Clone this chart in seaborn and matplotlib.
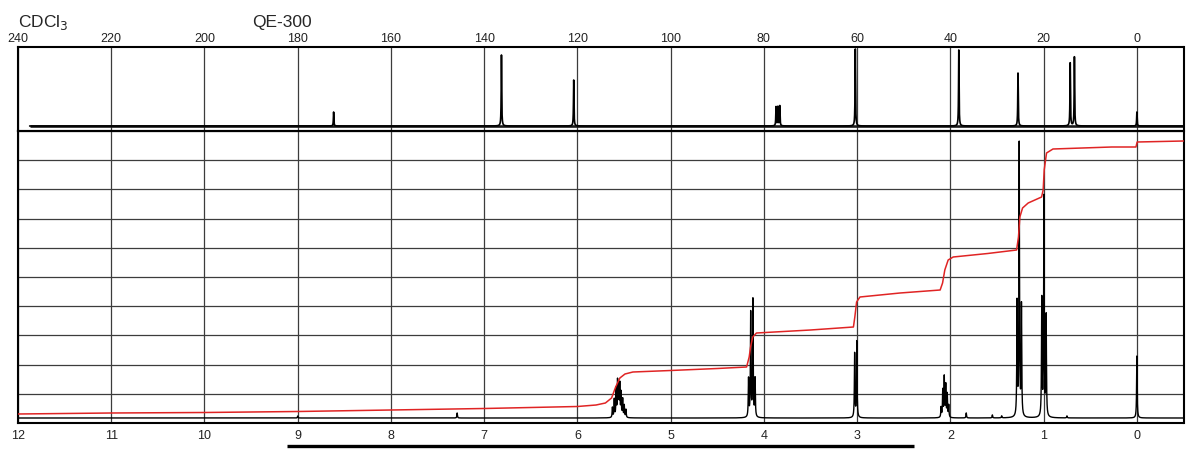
import numpy as np
import pandas as pd
import matplotlib
matplotlib.use("Agg")
import matplotlib.pyplot as plt
import seaborn as sns

# ---------------- data ----------------
# 13C peak list: position (ppm) and height (arbitrary units)
c13_ppm = [172.3, 136.3, 120.8, 77.4, 77.0, 76.6, 60.4, 38.2, 25.5, 14.3, 13.4, 0.0]
c13_height = [14, 71, 46, 19, 19, 20, 77, 76, 53, 63, 69, 14]
c13_hwhm = 0.06

# 1H line list: position (ppm) and height (arbitrary units)
h1_ppm = [9.00, 7.29,
          5.625, 5.605, 5.585, 5.570, 5.558, 5.546, 5.532, 5.515, 5.498, 5.480,
          4.165, 4.142, 4.118, 4.095,
          3.027, 3.004,
          2.100, 2.082, 2.066, 2.050, 2.034, 2.018,
          1.830, 1.550, 1.450,
          1.285, 1.262, 1.238,
          1.020, 0.997, 0.973,
          0.750, 0.000]
h1_height = [2, 5,
             10, 18, 28, 35, 29, 32, 24, 18, 12, 8,
             38, 104, 117, 38,
             64, 76,
             10, 27, 40, 32, 23, 12,
             5, 3, 2,
             113, 272, 110,
             117, 219, 100,
             2, 62]
h1_hwhm = 0.0035

# integral trace (ppm, value)
int_ppm = [12.0, 11.0, 10.0, 9.0, 8.0, 7.0, 6.0, 5.80, 5.70, 5.634, 5.59, 5.545, 5.49, 5.405,
           5.0, 4.5, 4.186, 4.158, 4.143, 4.12, 4.08, 3.5, 3.04, 3.025, 3.006, 2.97, 2.54,
           2.11, 2.084, 2.06, 2.024, 1.97, 1.6, 1.29, 1.27, 1.255, 1.226, 1.166, 1.022,
           1.005, 0.994, 0.969, 0.9, 0.27, 0.01, -0.003, -0.5]
int_val = [4, 5, 5.5, 6.5, 8, 9.5, 11.5, 13, 15, 20, 31, 40, 44, 46,
           47.5, 49.5, 51, 61, 71, 81, 85, 88, 91, 101, 116, 121, 125,
           128, 135, 148, 158, 161, 164.5, 168, 181, 201, 210, 215, 221,
           228, 248, 265, 269, 271, 271, 276, 277]

c13_ticks = [240, 220, 200, 180, 160, 140, 120, 100, 80, 60, 40, 20, 0]
h1_ticks = [12, 11, 10, 9, 8, 7, 6, 5, 4, 3, 2, 1, 0]
solvent_label = "CDCl$_3$"
instrument_label = "QE-300"


def spectrum(grid, pos, hgt, w):
    y = np.zeros_like(grid)
    for p, h in zip(pos, hgt):
        y += h / (1.0 + ((grid - p) / w) ** 2)
    return y


c_grid = np.arange(237.5, -10.0, -0.01)
c_df = pd.DataFrame({"ppm": c_grid, "I": spectrum(c_grid, c13_ppm, c13_height, c13_hwhm)})
h_grid = np.arange(12.0, -0.5, -0.0005)
h_df = pd.DataFrame({"ppm": h_grid, "I": spectrum(h_grid, h1_ppm, h1_height, h1_hwhm)})
i_df = pd.DataFrame({"ppm": int_ppm, "I": int_val})

# ---------------- figure ----------------
sns.set_theme(style="white")
plt.rcParams["font.family"] = ["Liberation Sans", "DejaVu Sans"]

W, H = 1200, 458
fig = plt.figure(figsize=(12, 4.58), dpi=100)
L = 18 / W
Wd = (1183.5 - 18) / W
ax_c = fig.add_axes([L, 1 - 131 / H, Wd, 84 / H])
ax_h = fig.add_axes([L, 1 - 423 / H, Wd, 292 / H])

grid_col = "#3c3c3c"

# --- 13C panel ---
ax_c.plot([237.5, -10], [0, 0], color="#1a1a1a", lw=1.9, zorder=2, solid_capstyle="butt")
sns.lineplot(data=c_df, x="ppm", y="I", ax=ax_c, color="black", lw=1.2,
             estimator=None, sort=False, zorder=3)
ax_c.set_xlim(240, -10)
ax_c.set_ylim(-5, 79)
ax_c.set_xticks(c13_ticks)
ax_c.set_xticklabels([str(t) for t in c13_ticks])
ax_c.xaxis.tick_top()
ax_c.set_yticks([])
ax_c.tick_params(axis="x", length=0, pad=1.5, labelsize=9, labelcolor="#222222")
ax_c.grid(True, axis="x", color=grid_col, lw=0.9)
ax_c.set_axisbelow(True)
ax_c.set_xlabel("")
ax_c.set_ylabel("")

# --- 1H panel ---
sns.lineplot(data=h_df, x="ppm", y="I", ax=ax_h, color="black", lw=1.0,
             estimator=None, sort=False, zorder=3)
sns.lineplot(data=i_df, x="ppm", y="I", ax=ax_h, color="#e02424", lw=1.1,
             estimator=None, sort=False, zorder=4)
ax_h.set_xlim(12, -0.5)
ax_h.set_ylim(-5, 287)
ax_h.set_xticks(h1_ticks)
ax_h.set_xticklabels([str(t) for t in h1_ticks])
ax_h.set_yticks(np.linspace(-5, 287, 11))
ax_h.set_yticklabels([])
ax_h.tick_params(axis="both", length=0, labelsize=9, labelcolor="#222222")
ax_h.tick_params(axis="x", pad=5)
ax_h.grid(True, color=grid_col, lw=0.9)
ax_h.set_axisbelow(True)
ax_h.set_xlabel("")
ax_h.set_ylabel("")

for ax in (ax_c, ax_h):
    for s in ax.spines.values():
        s.set_visible(True)
        s.set_color("black")
        s.set_linewidth(1.5)

# underline bar below the 1H axis
ax_h.plot([9.12, 2.39], [-0.079, -0.079], transform=ax_h.get_xaxis_transform(),
          color="black", lw=2.4, clip_on=False, solid_capstyle="butt")

fig.text(18 / W, 1 - 27 / H, solvent_label, fontsize=12.5, ha="left", va="baseline")
fig.text(252 / W, 1 - 27 / H, instrument_label, fontsize=12.5, ha="left", va="baseline")

fig.savefig("out.png", dpi=100)
